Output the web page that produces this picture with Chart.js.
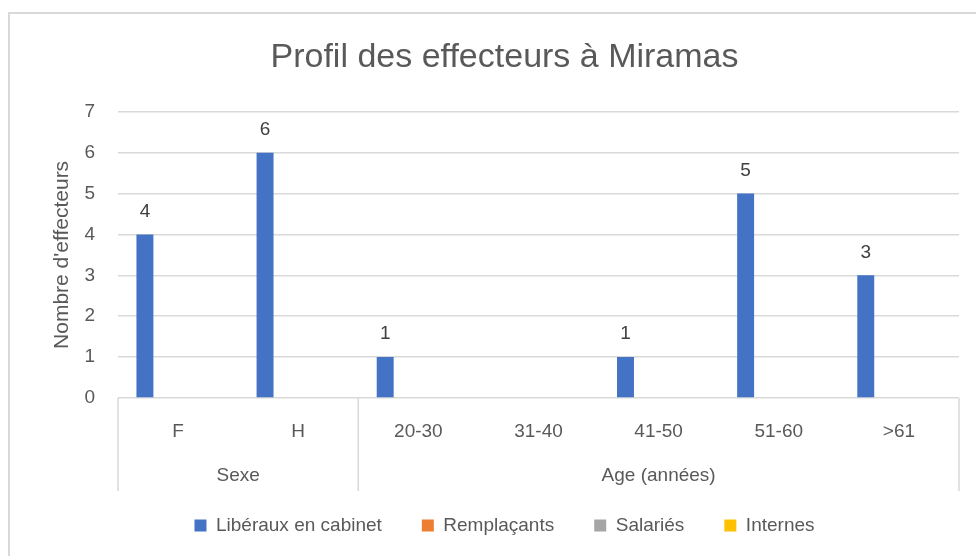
<!DOCTYPE html>
<html>
<head>
<meta charset="utf-8">
<script src="https://cdn.jsdelivr.net/npm/chart.js@4"></script>
<style>
  body { margin: 0; background: #fff; }
  .frame { position: absolute; left: 8px; top: 12px; width: 990px; height: 570px; border: 2px solid #d9d9d9; box-sizing: border-box; }
  .wrap { position: absolute; left: 0; top: 0; width: 976px; height: 556px; }
</style>
</head>
<body>
<div class="frame"></div>
<div class="wrap"><canvas id="chart"></canvas></div>
<script>
const categories = ['F', 'H', '20-30', '31-40', '41-50', '51-60', '>61'];
const groupLabels = ['Sexe', 'Age (années)'];
const groupSizes = [2, 5];

const liberaux = [4, 6, 1, null, 1, 5, 3];
const remplacants = [0, 0, 0, 0, 0, 0, 0];
const salaries = [0, 0, 0, 0, 0, 0, 0];
const internes = [0, 0, 0, 0, 0, 0, 0];

const FONT = '"Liberation Sans", Arial, sans-serif';
const TEXT = '#595959';
const AXIS_H = 78;

// labels above blue bars + the two-level category axis
const extras = {
  id: 'extras',
  afterDatasetsDraw(chart) {
    const ctx = chart.ctx;
    const meta = chart.getDatasetMeta(0);
    ctx.save();
    ctx.font = '19px ' + FONT;
    ctx.fillStyle = '#404040';
    ctx.textAlign = 'center';
    ctx.textBaseline = 'middle';
    meta.data.forEach((bar, i) => {
      const v = liberaux[i];
      if (v == null) return;
      ctx.fillText(String(v), bar.x, bar.y - 23);
    });
    ctx.restore();
  },
  afterDraw(chart) {
    const ctx = chart.ctx;
    const x = chart.scales.x;
    const top = chart.chartArea.bottom;
    const bottom = top + 93;
    const half = (x.getPixelForValue(1) - x.getPixelForValue(0)) / 2;
    ctx.save();
    ctx.strokeStyle = '#d9d9d9';
    ctx.lineWidth = 1.5;
    ctx.font = '19px ' + FONT;
    ctx.fillStyle = TEXT;
    ctx.textAlign = 'center';
    ctx.textBaseline = 'middle';
    let start = 0;
    const edge = (px) => {
      ctx.beginPath();
      ctx.moveTo(px, top);
      ctx.lineTo(px, bottom);
      ctx.stroke();
    };
    edge(x.getPixelForValue(0) - half);
    groupSizes.forEach((n, g) => {
      const l = x.getPixelForValue(start) - half;
      const r = x.getPixelForValue(start + n - 1) + half;
      edge(r);
      ctx.fillText(groupLabels[g], (l + r) / 2, top + 78);
      start += n;
    });
    ctx.restore();
  }
};

new Chart(document.getElementById('chart'), {
  type: 'bar',
  data: {
    labels: categories,
    datasets: [
      { label: 'Libéraux en cabinet', data: liberaux, backgroundColor: '#4472C4' },
      { label: 'Remplaçants', data: remplacants, backgroundColor: '#ED7D31' },
      { label: 'Salariés', data: salaries, backgroundColor: '#A5A5A5' },
      { label: 'Internes', data: internes, backgroundColor: '#FFC000' }
    ]
  },
  options: {
    responsive: true,
    maintainAspectRatio: false,
    animation: false,
    categoryPercentage: 0.736,
    barPercentage: 0.767,
    layout: { padding: { left: 50, right: 17, top: 0, bottom: 11 } },
    plugins: {
      title: {
        display: true,
        text: 'Profil des effecteurs à Miramas',
        color: TEXT,
        font: { family: FONT, size: 34, weight: 'normal' },
        padding: { top: 37, bottom: 34 }
      },
      legend: {
        position: 'bottom',
        labels: {
          color: TEXT,
          font: { family: FONT, size: 19 },
          boxWidth: 12,
          boxHeight: 12,
          padding: 40
        }
      },
      tooltip: { enabled: false }
    },
    scales: {
      x: {
        grid: { display: false, drawTicks: false },
        border: { display: false },
        ticks: { color: TEXT, font: { family: FONT, size: 19 }, padding: 22, maxRotation: 0 },
        afterFit(scale) { scale.height = AXIS_H; }
      },
      y: {
        min: 0,
        max: 7,
        ticks: { stepSize: 1, color: TEXT, font: { family: FONT, size: 19 }, padding: 23 },
        grid: { color: '#d9d9d9', lineWidth: 1.5, drawTicks: false },
        border: { display: false },
        title: {
          display: true,
          text: "Nombre d'effecteurs",
          color: TEXT,
          font: { family: FONT, size: 21 },
          padding: 0
        },
        afterFit(scale) { scale.width = 68; }
      }
    }
  },
  plugins: [extras]
});
</script>
</body>
</html>
